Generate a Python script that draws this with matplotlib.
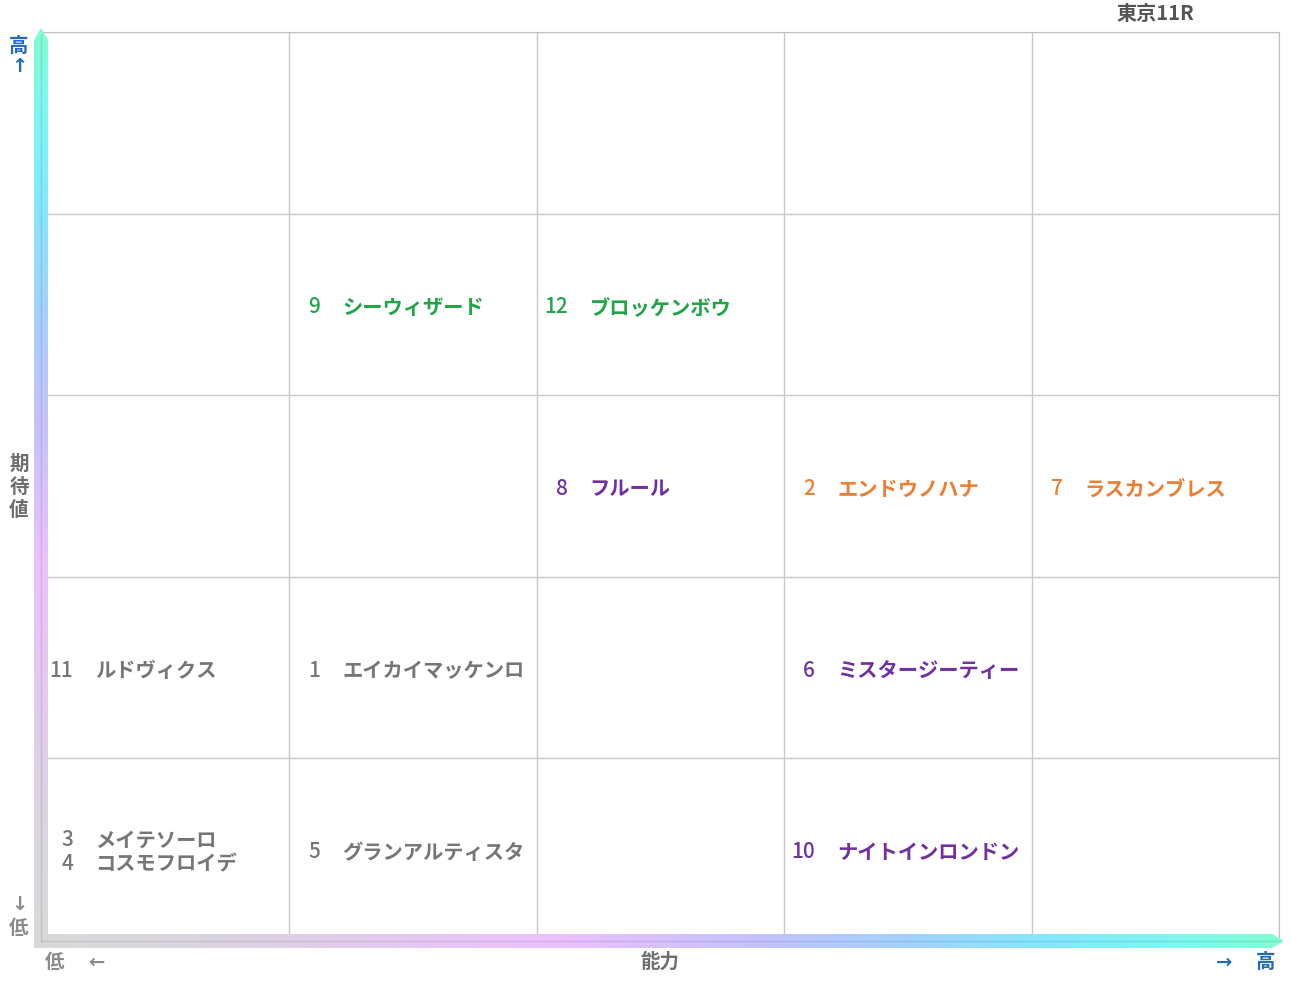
import matplotlib
matplotlib.use("Agg")
import matplotlib.pyplot as plt
import numpy as np
from matplotlib.colors import LinearSegmentedColormap
from matplotlib.patches import Polygon

plt.rcParams['font.family'] = ['Noto Sans CJK JP', 'DejaVu Sans']

# Horse entries: number, name, ability column (0-4), expectation row (0-4), group
numbers = [9, 12, 8, 2, 7, 11, 1, 6, 3, 4, 5, 10]
names = ["シーウィザード", "ブロッケンボウ", "フルール", "エンドウノハナ", "ラスカンブレス",
         "ルドヴィクス", "エイカイマッケンロ", "ミスタージーティー",
         "メイテソーロ", "コスモフロイデ", "グランアルティスタ", "ナイトインロンドン"]
ability = [1, 2, 2, 3, 4, 0, 1, 3, 0, 0, 1, 3]
expect = [3, 3, 2, 2, 2, 1, 1, 1, 0, 0, 0, 0]
group = ["green", "green", "purple", "orange", "orange", "gray", "gray", "purple",
         "gray", "gray", "gray", "purple"]

title = "東京11R"
x_label = "能力"
y_label = "期待値"

palette = {"green": "#1fa447", "purple": "#7030a0", "orange": "#ed7d31", "gray": "#767676"}
blue = "#1f6bbd"
label_gray = "#6e6e6e"

W, H = 1291, 983
fig = plt.figure(figsize=(W / 100, H / 100), dpi=100)
fig.patch.set_facecolor("white")

x0, x1, y0, y1 = 42, 1279, 32, 940
ax = fig.add_axes([x0 / W, (H - y1) / H, (x1 - x0) / W, (y1 - y0) / H])
ax.set_xlim(0, 5)
ax.set_ylim(0, 5)
ax.set_xticks(range(6))
ax.set_yticks(range(6))
ax.tick_params(length=0, labelbottom=False, labelleft=False)
ax.grid(True, color="#c8c8c8", linewidth=1)
for side in ["top", "right"]:
    ax.spines[side].set_color("#c0c0c0")
for side in ["left", "bottom"]:
    ax.spines[side].set_visible(False)

num_font = ["Noto Sans CJK JP"]

# Place labels inside each cell; stacked when a cell holds several entries
px_x = 1 / ((x1 - x0) / 5)
px_y = 1 / ((y1 - y0) / 5)
cells = {}
for i, (c, r) in enumerate(zip(ability, expect)):
    cells.setdefault((c, r), []).append(i)
for (c, r), idx in cells.items():
    n = len(idx)
    for k, i in enumerate(idx):
        yy = r + 0.5 - 3 * px_y + ((n - 1) / 2 - k) * 24 * px_y
        col = palette[group[i]]
        ax.text(c + 31 * px_x, yy, str(numbers[i]), ha="right", va="center",
                fontsize=15, fontweight="medium", color=col, fontfamily=num_font)
        ax.text(c + 53 * px_x, yy, names[i], ha="left", va="center",
                fontsize=14.6, fontweight="bold", color=col)

# Overlay in pixel coordinates for the gradient axis arrows and labels
ov = fig.add_axes([0, 0, 1, 1], zorder=5)
ov.set_xlim(0, W)
ov.set_ylim(H, 0)
ov.axis("off")
ov.patch.set_alpha(0)

stops = [(0.0, "#d9d9d9"), (0.12, "#dad6de"), (0.42, "#ecc0ff"), (0.58, "#c4c2ff"),
         (0.70, "#a2d2ff"), (0.82, "#82eaff"), (0.92, "#7ef8f0"), (1.0, "#80ffd2")]
cmap = LinearSegmentedColormap.from_list("axisgrad", stops)
grad = np.linspace(0, 1, 512)

# vertical bar (bottom gray -> top mint)
vpoly = Polygon([(34, 948), (34, 40), (41, 28), (48, 40), (48, 948)], closed=True,
                transform=ov.transData, facecolor="none", edgecolor="none")
ov.add_patch(vpoly)
im = ov.imshow(grad[::-1, None], cmap=cmap, extent=[34, 48, 948, 28], aspect="auto",
               interpolation="bilinear")
im.set_clip_path(vpoly)

# horizontal bar (left gray -> right mint)
hpoly = Polygon([(34, 948), (34, 934), (1272, 934), (1284, 941), (1272, 948)], closed=True,
                transform=ov.transData, facecolor="none", edgecolor="none")
ov.add_patch(hpoly)
im2 = ov.imshow(grad[None, :], cmap=cmap, extent=[34, 1284, 948, 934], aspect="auto",
                interpolation="bilinear")
im2.set_clip_path(hpoly)

ov.plot([41, 41], [34, 941], color="#000000", alpha=0.10, linewidth=1)
ov.plot([41, 1280], [941, 941], color="#000000", alpha=0.10, linewidth=1)

# title
ov.text(1155, 14, title, ha="center", va="center", fontsize=14.5, fontweight="bold", color="#555555")

# vertical axis labels
fs = 14
ov.text(19, 46, "高", ha="center", va="center", fontsize=fs, fontweight="bold", color=blue)
ov.text(19, 67, "↑", ha="center", va="center", fontsize=fs, fontweight="bold", color=blue,
        fontfamily=["DejaVu Sans"])
for k, ch in enumerate(y_label):
    ov.text(19, 464 + 23 * k, ch, ha="center", va="center", fontsize=fs, fontweight="bold",
            color=label_gray)
ov.text(19, 904, "↓", ha="center", va="center", fontsize=fs, fontweight="bold", color="#8a8a8a",
        fontfamily=["DejaVu Sans"])
ov.text(19, 928, "低", ha="center", va="center", fontsize=fs, fontweight="bold", color="#8a8a8a")

# horizontal axis labels
ov.text(55, 962, "低", ha="center", va="center", fontsize=fs, fontweight="bold", color="#8a8a8a")
ov.text(96, 962, "←", ha="center", va="center", fontsize=fs, fontweight="bold", color="#8a8a8a",
        fontfamily=["DejaVu Sans"])
ov.text(660, 962, x_label, ha="center", va="center", fontsize=fs, fontweight="bold", color=label_gray)
ov.text(1224, 962, "→", ha="center", va="center", fontsize=fs, fontweight="bold", color=blue,
        fontfamily=["DejaVu Sans"])
ov.text(1266, 962, "高", ha="center", va="center", fontsize=fs, fontweight="bold", color=blue)

fig.savefig("out.png", dpi=100, facecolor="white")
